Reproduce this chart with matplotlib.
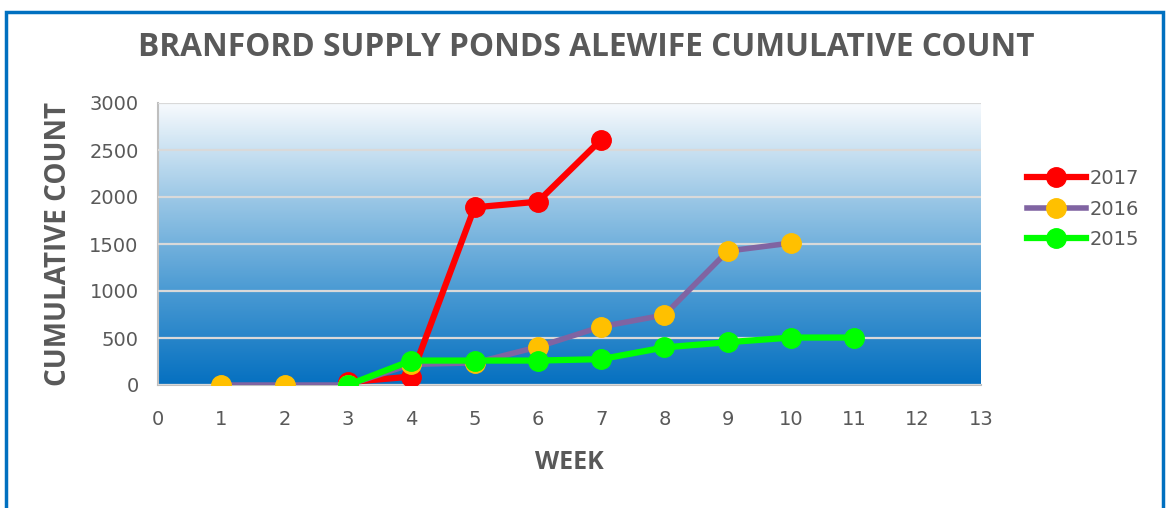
import numpy as np
import matplotlib.pyplot as plt
from matplotlib.colors import LinearSegmentedColormap
from matplotlib.patches import Rectangle

weeks_2017 = [3, 4, 5, 6, 7]
count_2017 = [30, 90, 1890, 1950, 2610]
weeks_2016 = [1, 2, 3, 4, 5, 6, 7, 8, 9, 10]
count_2016 = [0, 0, 0, 220, 235, 405, 620, 745, 1425, 1510]
weeks_2015 = [3, 4, 5, 6, 7, 8, 9, 10, 11]
count_2015 = [0, 260, 260, 260, 275, 400, 455, 505, 505]

grey = '#595959'
bold_font = ['Open Sans', 'DejaVu Sans']

fig = plt.figure(figsize=(11.68, 5.08), dpi=100)
fig.patches.append(Rectangle((6 / 1168, -0.05), 1157 / 1168, 1.05 - 12 / 508,
                             transform=fig.transFigure, fill=False,
                             edgecolor='#0070C0', linewidth=2.5))

ax = fig.add_axes([158 / 1168, 123 / 508, 823 / 1168, 282 / 508])
grad = LinearSegmentedColormap.from_list('bg', ['#0570C0', '#4a9ad3', '#9cc8e6', '#f7fafd'])
ax.imshow(np.linspace(0, 1, 256).reshape(-1, 1), cmap=grad, origin='lower',
          extent=[0, 13, 0, 3000], aspect='auto', zorder=0)

ax.plot(weeks_2017, count_2017, '-o', color='#FF0000', lw=4.5, ms=14, label='2017', zorder=3)
ax.plot(weeks_2016, count_2016, '-o', color='#8064A2', mfc='#FFC000', mec='#FFC000',
        lw=4, ms=14, label='2016', zorder=4)
ax.plot(weeks_2015, count_2015, '-o', color='#00FF00', lw=4.5, ms=14, label='2015', zorder=5)

ax.set_xlim(0, 13)
ax.set_ylim(0, 3000)
ax.set_xticks(range(14))
ax.set_yticks(range(0, 3001, 500))
ax.grid(axis='y', color='#D9D9D9', lw=1.6, zorder=1)
ax.set_axisbelow(False)
for side in ['top', 'right']:
    ax.spines[side].set_visible(False)
for side in ['left', 'bottom']:
    ax.spines[side].set_color('#BFBFBF')
    ax.spines[side].set_linewidth(1.5)
ax.tick_params(length=0, colors=grey, labelsize=14)
ax.tick_params(axis='x', pad=18)
ax.tick_params(axis='y', pad=14)

ax.set_xlabel('WEEK', fontsize=18, fontweight='bold', color=grey, labelpad=15,
              family=bold_font)
ax.set_ylabel('CUMULATIVE COUNT', fontsize=20, fontweight='bold', color=grey, labelpad=12,
              family=bold_font)
fig.text(0.502, 1 - 48 / 508, 'BRANFORD SUPPLY PONDS ALEWIFE CUMULATIVE COUNT',
         ha='center', va='center', fontsize=22.8, fontweight='bold', color=grey,
         family=bold_font)

leg = ax.legend(loc='center left', bbox_to_anchor=(1.035, 0.624), frameon=False,
                handlelength=3.0, handletextpad=0.2, labelspacing=0.6,
                prop={'size': 14})
for t in leg.get_texts():
    t.set_color(grey)

fig.savefig('out.png', dpi=100)
